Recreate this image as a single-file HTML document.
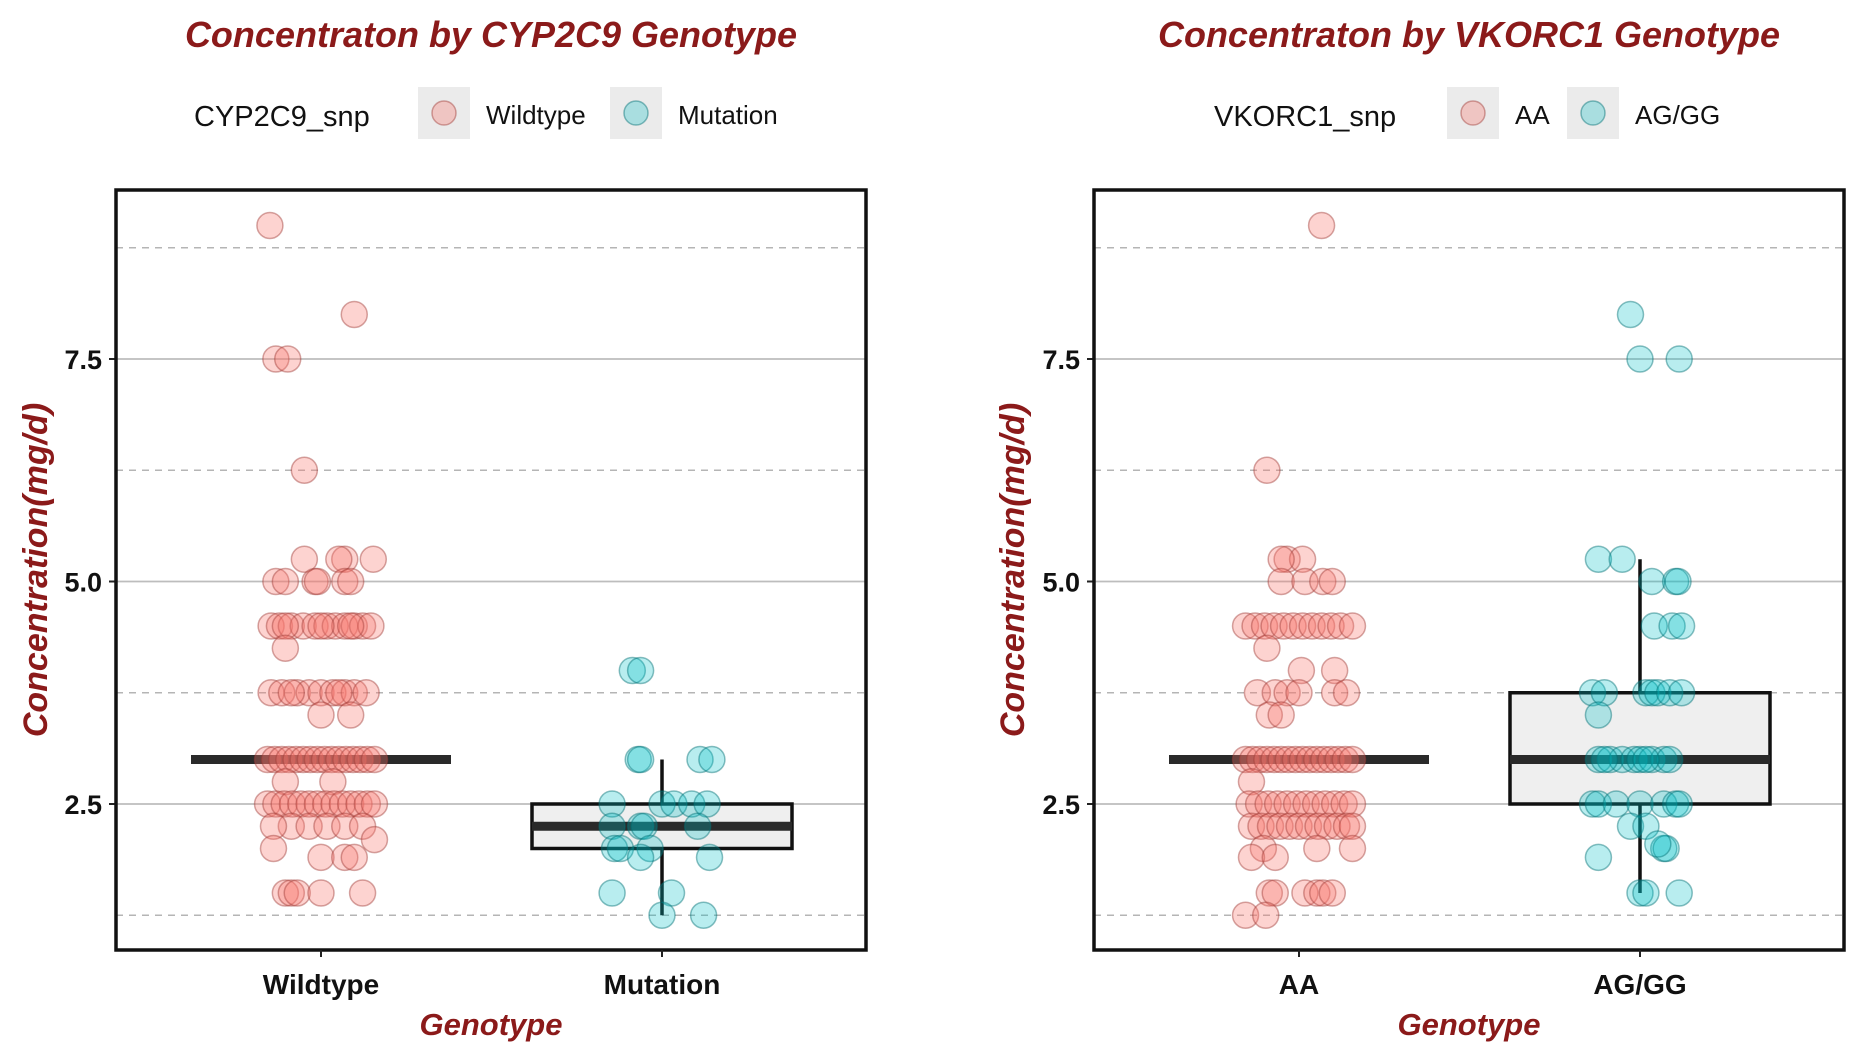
<!DOCTYPE html>
<html><head><meta charset="utf-8"><style>
html,body{margin:0;padding:0;background:#fff;}
svg{display:block;}
text{font-family:"Liberation Sans",sans-serif;}
</style></head><body>
<svg id="chart" width="1863" height="1061" viewBox="0 0 1863 1061"></svg>
<script>
// ---- data ----
const panelTitles = ["Concentraton by CYP2C9 Genotype", "Concentraton by VKORC1 Genotype"];
const legendTitles = ["CYP2C9_snp", "VKORC1_snp"];
const categoriesLeft = ["Wildtype", "Mutation"];
const categoriesRight = ["AA", "AG/GG"];
const yTickValues = [2.5, 5.0, 7.5];
const yTickLabels = ["2.5", "5.0", "7.5"];
const yMinorValues = [1.25, 3.75, 6.25, 8.75];
// box stats: [lowerWhisker, q1, median, q3, upperWhisker]
const boxWildtype = [3.0, 3.0, 3.0, 3.0, 3.0];
const boxMutation = [1.25, 2.0, 2.25, 2.5, 3.0];
const boxAA = [3.0, 3.0, 3.0, 3.0, 3.0];
const boxAGGG = [1.5, 2.5, 3.0, 3.75, 5.25];
// points: values and jitter (fraction of category spacing)
const wildVals = [9.0,8.0,7.5,7.5,6.25,5.25,5.25,5.25,5.25,5.0,5.0,5.0,5.0,5.0,5.0,
 4.5,4.5,4.5,4.5,4.5,4.5,4.5,4.5,4.5,4.5,4.5,4.5,4.5,4.5,4.25,
 3.75,3.75,3.75,3.75,3.75,3.75,3.75,3.75,3.75,3.75,3.75,3.5,3.5,
 3.0,3.0,3.0,3.0,3.0,3.0,3.0,3.0,3.0,3.0,3.0,3.0,3.0,3.0,3.0,3.0,2.75,2.75,
 2.5,2.5,2.5,2.5,2.5,2.5,2.5,2.5,2.5,2.5,2.5,2.5,2.5,2.5,
 2.25,2.25,2.25,2.25,2.25,2.25,2.1,2.0,1.9,1.9,1.9,1.5,1.5,1.5,1.5,1.5];
const wildJit = [-43,28,-38,-28,-14,-14,20,44,15,-38,-30,-5,-3,20,25,
 -42,-35,-25,-15,-5,5,12,20,28,35,42,-30,0,25,-30,
 -42,-33,-20,-10,0,10,20,28,38,-25,15,0,25,
 -45,-39,-33,-27,-21,-15,-9,-3,3,9,15,21,27,33,39,45,-30,10,
 -45,-38,-31,-24,-17,-10,-3,4,11,18,25,32,39,45,
 -25,-10,5,20,35,-40,45,-40,0,20,28,-30,-25,-20,0,35];
const mutVals = [4.0,4.0,3.0,3.0,3.0,3.0,2.5,2.5,2.5,2.5,2.5,2.25,2.25,2.25,2.25,2.0,2.0,2.0,1.9,1.9,1.5,1.5,1.25,1.25];
const mutJit = [-25,-18,-20,-18,32,42,-42,0,10,25,38,-42,-18,-15,30,-40,-35,-10,-18,40,-42,8,0,35];
const aaVals = [9.0,6.25,5.25,5.25,5.25,5.0,5.0,5.0,5.0,
 4.5,4.5,4.5,4.5,4.5,4.5,4.5,4.5,4.5,4.5,4.5,4.5,4.25,4.0,4.0,
 3.75,3.75,3.75,3.75,3.75,3.75,3.5,3.5,
 3.0,3.0,3.0,3.0,3.0,3.0,3.0,3.0,3.0,3.0,3.0,3.0,3.0,3.0,3.0,3.0,2.75,
 2.5,2.5,2.5,2.5,2.5,2.5,2.5,2.5,2.5,2.5,2.5,2.5,
 2.25,2.25,2.25,2.25,2.25,2.25,2.25,2.25,2.25,2.25,2.25,2.25,
 2.0,2.0,2.0,1.9,1.9,1.5,1.5,1.5,1.5,1.5,1.5,1.25,1.25];
const aaJit = [19,-27,-10,3,-15,-15,5,20,28,
 -45,-37,-29,-21,-13,-5,3,11,19,27,35,45,-27,2,30,
 -35,-20,-10,0,30,40,-25,-15,
 -45,-39,-33,-27,-21,-15,-9,-3,3,9,15,21,27,33,39,45,-40,
 -42,-34,-26,-18,-10,-2,6,14,22,30,38,45,
 -40,-32,-24,-16,-8,0,8,16,24,32,40,45,
 -30,15,45,-40,-20,-25,-20,5,15,20,28,-45,-28];
const agVals = [8.0,7.5,7.5,5.25,5.25,5.0,5.0,5.0,4.5,4.5,4.5,
 3.75,3.75,3.75,3.75,3.75,3.75,3.75,3.5,
 3.0,3.0,3.0,3.0,3.0,3.0,3.0,3.0,3.0,3.0,
 2.5,2.5,2.5,2.5,2.5,2.5,2.5,2.25,2.25,2.0,2.0,2.05,1.9,1.5,1.5,1.5];
const agJit = [-8,0,33,-35,-15,10,30,32,12,27,35,
 -40,-30,5,10,15,25,35,-35,
 -35,-25,-15,-5,0,10,20,25,-30,5,
 -40,-35,-20,0,20,30,33,-8,5,20,22,15,-35,0,5,33];

// ---- drawing ----
const NS = "http://www.w3.org/2000/svg";
const svg = document.getElementById("chart");
function mk(tag, attrs, parent){
  const e = document.createElementNS(NS, tag);
  for (const k in attrs) e.setAttribute(k, attrs[k]);
  (parent||svg).appendChild(e);
  return e;
}
function yScale(v){ return 804 - (v - 2.5) * 89; }
const SPACING = 341;
const PINK_F = "rgba(248,118,109,0.32)", PINK_S = "rgba(160,60,55,0.45)";
const TEAL_F = "rgba(0,191,196,0.28)", TEAL_S = "rgba(0,110,115,0.45)";

function drawPanel(p){
  const g = mk("g", {});
  
  
  const L = p.left, R = p.left + 750, T = 190, B = 950;
  const xc = i => p.c0 + i * SPACING;
  const t = mk("text", {x:(L+R)/2, y:47, "text-anchor":"middle", "font-size":36, "font-weight":"bold", "font-style":"italic", fill:"#8B1A1A"}, g);
  t.textContent = p.title;
  
  
  const lg = mk("g", {}, g);
  
  
  const lt = mk("text", {x:p.legX, y:126, "font-size":29, fill:"#111"}, lg);
  lt.textContent = p.legTitle;
  
  
  p.legItems.forEach((it, k) => {
    const e = mk("g", {}, lg);
    
    
    mk("rect", {x:it.kx, y:87, width:52, height:52, fill:"#ebebeb"}, e);
    mk("circle", {cx:it.kx+26, cy:113, r:12, fill:k?TEAL_F:PINK_F, stroke:k?TEAL_S:PINK_S, "stroke-width":1.5}, e);
    const tx = mk("text", {x:it.kx+68, y:124, "font-size":26, fill:"#111"}, e);
    tx.textContent = it.label;
  });
  yMinorValues.forEach(v => {
    const l = mk("line", {x1:L, x2:R, y1:yScale(v), y2:yScale(v), stroke:"#b5b5b5", "stroke-width":1.5, "stroke-dasharray":"7,6"}, g);
    
    
  });
  yTickValues.forEach((v, i) => {
    const l = mk("line", {x1:L, x2:R, y1:yScale(v), y2:yScale(v), stroke:"#bdbdbd", "stroke-width":1.8}, g);
    
    
    mk("line", {x1:L-7, x2:L, y1:yScale(v), y2:yScale(v), stroke:"#222", "stroke-width":2}, g);
    const tl = mk("text", {x:L-14, y:yScale(v)+10, "text-anchor":"end", "font-size":27, "font-weight":"bold", fill:"#111"}, g);
    tl.textContent = yTickLabels[i];
    
    
  });
  p.boxes.forEach((b, i) => {
    const cx = xc(i), hw = 130;
    const bg = mk("g", {}, g);
    
    
    mk("line", {x1:cx, x2:cx, y1:yScale(b[0]), y2:yScale(b[4]), stroke:"#111", "stroke-width":3.5}, bg);
    if (b[3] > b[1]) mk("rect", {x:cx-hw, y:yScale(b[3]), width:2*hw, height:yScale(b[1])-yScale(b[3]), fill:"#efefef", stroke:"#111", "stroke-width":3.5}, bg);
    mk("line", {x1:cx-hw, x2:cx+hw, y1:yScale(b[2]), y2:yScale(b[2]), stroke:"#2a2a2a", "stroke-width":9}, bg);
  });
  p.points.forEach((ps, i) => {
    const cx = xc(i);
    ps.vals.forEach((v, j) => {
      const c = mk("circle", {cx:cx + ps.jit[j] / 287 * SPACING, cy:yScale(v), r:13, fill:i?TEAL_F:PINK_F, stroke:i?TEAL_S:PINK_S, "stroke-width":1.5}, g);
      
      
    });
  });
  const fr = mk("rect", {x:L, y:T, width:R-L, height:B-T, fill:"none", stroke:"#111", "stroke-width":3.5}, g);
  
  
  p.cats.forEach((c, i) => {
    mk("line", {x1:xc(i), x2:xc(i), y1:B, y2:B+7, stroke:"#222", "stroke-width":2}, g);
    const tl = mk("text", {x:xc(i), y:994, "text-anchor":"middle", "font-size":28, "font-weight":"bold", fill:"#111"}, g);
    tl.textContent = c;
    
    
  });
  const xt = mk("text", {x:(L+R)/2, y:1035, "text-anchor":"middle", "font-size":31, "font-weight":"bold", "font-style":"italic", fill:"#8B1A1A"}, g);
  xt.textContent = "Genotype";
  
  
  const yt = mk("text", {x:0, y:0, "text-anchor":"middle", "font-size":34, "font-weight":"bold", "font-style":"italic", fill:"#8B1A1A", transform:`translate(${p.yTitleX},570) rotate(-90)`}, g);
  yt.textContent = "Concentration(mg/d)";
  
  
}

drawPanel({name:"cyp2c9-panel", left:116, c0:321, title:panelTitles[0], legTitle:legendTitles[0], legX:194,
  legItems:[{kx:418,label:"Wildtype"},{kx:610,label:"Mutation"}],
  cats:categoriesLeft, boxes:[boxWildtype, boxMutation],
  points:[{vals:wildVals,jit:wildJit},{vals:mutVals,jit:mutJit}], yTitleX:47});
drawPanel({name:"vkorc1-panel", left:1094, c0:1299, title:panelTitles[1], legTitle:legendTitles[1], legX:1214,
  legItems:[{kx:1447,label:"AA"},{kx:1567,label:"AG/GG"}],
  cats:categoriesRight, boxes:[boxAA, boxAGGG],
  points:[{vals:aaVals,jit:aaJit},{vals:agVals,jit:agJit}], yTitleX:1024});
</script>
</body></html>
